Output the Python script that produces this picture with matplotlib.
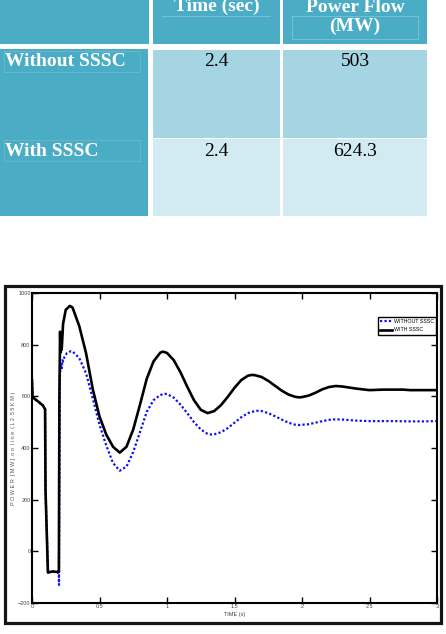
import matplotlib
matplotlib.use("Agg")
import matplotlib.pyplot as plt
import matplotlib.patches as mpatches

# ---- table data ----
header_cols = ["Time (sec)", "Power Flow\n(MW)"]
row_labels = ["Without SSSC", "With SSSC"]
row_times = ["2.4", "2.4"]
row_power = ["503", "624.3"]

# ---- curve data (time s, power MW) ----
t_without = [0, 0.004, 0.02, 0.05, 0.08, 0.097, 0.100, 0.118, 0.15, 0.19, 0.199, 0.200,
             0.203, 0.206, 0.210, 0.215, 0.220, 0.225, 0.230, 0.240, 0.260, 0.290,
             0.30, 0.35, 0.40, 0.45, 0.50, 0.55, 0.60, 0.65, 0.70, 0.75, 0.80, 0.85,
             0.90, 0.95, 0.98, 1.00, 1.05, 1.10, 1.15, 1.20, 1.25, 1.30, 1.33, 1.35,
             1.40, 1.45, 1.50, 1.55, 1.60, 1.65, 1.67, 1.70, 1.75, 1.80, 1.85, 1.90,
             1.95, 1.98, 2.00, 2.05, 2.10, 2.15, 2.20, 2.25, 2.30, 2.35, 2.40, 2.45,
             2.50, 2.60, 2.70, 2.80, 2.90, 3.00]
p_without = [670, 600, 590, 578, 565, 550, 240, -82, -78, -80, -90, -130,
             300, 680, 700, 725, 705, 740, 735, 752, 768, 775,
             774, 748, 690, 592, 490, 410, 342, 312, 328, 385, 462, 540,
             585, 605, 610, 609, 595, 568, 535, 500, 472, 455, 452, 453,
             461, 477, 498, 519, 535, 543, 544, 543, 535, 523, 510, 498,
             490, 489, 490, 492, 498, 504, 509, 511, 510, 508, 506, 505,
             504, 504, 504, 503, 503, 504]

t_with = [0, 0.004, 0.02, 0.05, 0.08, 0.097, 0.100, 0.118, 0.15, 0.19, 0.199,
          0.203, 0.208, 0.212, 0.216, 0.220, 0.230, 0.250, 0.280,
          0.30, 0.35, 0.40, 0.45, 0.50, 0.55, 0.60, 0.65, 0.70, 0.75, 0.80, 0.85,
          0.90, 0.95, 0.97, 1.00, 1.05, 1.10, 1.15, 1.20, 1.25, 1.30, 1.35, 1.40,
          1.45, 1.50, 1.55, 1.60, 1.63, 1.65, 1.70, 1.75, 1.80, 1.85, 1.90, 1.95,
          1.98, 2.00, 2.05, 2.10, 2.15, 2.20, 2.25, 2.30, 2.35, 2.40, 2.45, 2.50,
          2.55, 2.60, 2.70, 2.75, 2.80, 2.90, 3.00]
p_with = [660, 600, 590, 578, 565, 550, 240, -82, -78, -80, -80,
          600, 850, 770, 845, 780, 880, 935, 950,
          944, 872, 768, 628, 522, 452, 405, 382, 405, 472, 568, 668,
          735, 769, 773, 768, 740, 693, 637, 585, 548, 535, 543, 566,
          598, 633, 663, 680, 683, 682, 675, 660, 641, 622, 607, 598,
          596, 597, 603, 614, 627, 636, 640, 638, 634, 630, 627, 624,
          625, 626, 626, 626, 624, 624, 624]

DARK = "#4BACC6"
ROW_COLS = ["#A5D5E2", "#D2EAF1"]

fig = plt.figure(figsize=(4.46, 6.34), dpi=100)

# background layer in pixel coordinates for the table and outer frame
bg = fig.add_axes([0, 0, 1, 1])
bg.set_xlim(0, 446)
bg.set_ylim(634, 0)
bg.axis("off")

col_x = [(0, 149), (153, 280), (283, 427)]
row_y = [(0, 44), (50, 137.5), (139, 216)]

def cell(x0, x1, y0, y1, color):
    bg.add_patch(mpatches.Rectangle((x0, y0), x1 - x0, y1 - y0, facecolor=color,
                                    edgecolor="none"))

# header row
for (x0, x1) in col_x:
    cell(x0, x1, row_y[0][0], row_y[0][1], DARK)
serif_b = dict(family="Liberation Serif", fontweight="bold", fontsize=14, color="white")
bg.text(sum(col_x[1]) / 2, 6, header_cols[0], ha="center", va="center", **serif_b)
bg.text(sum(col_x[2]) / 2, 17, header_cols[1], ha="center", va="center",
        linespacing=1.15, **serif_b)
# faint text-box outlines
bg.plot([162, 270], [16, 16], color="#7cc4d8", lw=0.6)
bg.plot([292, 418, 418, 292, 292], [16, 16, 39, 39, 16], color="#7cc4d8", lw=0.6)

# body rows
for i, (lab, tv, pv) in enumerate(zip(row_labels, row_times, row_power)):
    y0, y1 = row_y[i + 1]
    cell(col_x[0][0], col_x[0][1] - 1, y0 - 1, y1, DARK)
    cell(col_x[1][0], col_x[1][1], y0, y1, ROW_COLS[i])
    cell(col_x[2][0], col_x[2][1], y0, y1, ROW_COLS[i])
    ty = y0 + 12
    bg.text(5, ty, lab, ha="left", va="center", **serif_b)
    bg.text(sum(col_x[1]) / 2, ty, tv, ha="center", va="center",
            family="Liberation Serif", fontsize=14, color="black")
    bg.text(sum(col_x[2]) / 2, ty, pv, ha="center", va="center",
            family="Liberation Serif", fontsize=14, color="black")
    bg.plot([4, 140, 140, 4, 4], [y0 + 1, y0 + 1, y0 + 22, y0 + 22, y0 + 1],
            color="#6ab9cf", lw=0.6)

# outer frame around the plot
bg.add_patch(mpatches.Rectangle((5, 286), 436, 337, fill=False, edgecolor="#151515", lw=2.3))

# ---- the plot ----
ax = fig.add_axes([32 / 446, 31 / 634, 405 / 446, 310 / 634])
ax.plot(t_without, p_without, color="#1010f0", lw=1.6, linestyle=(0, (1, 1)),
        label="WITHOUT SSSC", zorder=2)
ax.plot(t_with, p_with, color="black", lw=1.9, label="WITH SSSC", zorder=3)

ax.set_xlim(0, 3)
ax.set_ylim(-200, 1000)
ax.set_xticks([0, 0.5, 1, 1.5, 2, 2.5, 3])
ax.set_xticklabels(["0", "0.5", "1", "1.5", "2", "2.5", "3"])
ax.set_yticks([-200, 0, 200, 400, 600, 800, 1000])
ax.tick_params(direction="in", length=4.5, width=1.0, labelsize=4, colors="black",
               labelcolor="#444444", top=True, right=True, pad=1)
for lab in ax.get_xticklabels() + ax.get_yticklabels():
    lab.set_family("Liberation Sans")
for s in ax.spines.values():
    s.set_linewidth(1.5)

ax.set_xlabel("TIME (s)", fontsize=4, color="#444444", labelpad=2,
              family="Liberation Sans")
ax.set_ylabel("P O W E R  [ M W ]  o n  l i n e  ( L 2  5 5 K M )", fontsize=4,
              color="#555555", family="Liberation Sans")
ax.yaxis.set_label_coords(-0.04, 0.5)

leg = ax.legend(loc="upper right", bbox_to_anchor=(0.998, 0.923), borderaxespad=0,
                handlelength=2.2, handletextpad=0.3, borderpad=0.45,
                labelspacing=0.6, fancybox=False, framealpha=1,
                prop={"family": "Liberation Sans", "size": 3.8})
leg.get_frame().set_edgecolor("black")
leg.get_frame().set_linewidth(1.0)

fig.savefig("out.png", dpi=100)
